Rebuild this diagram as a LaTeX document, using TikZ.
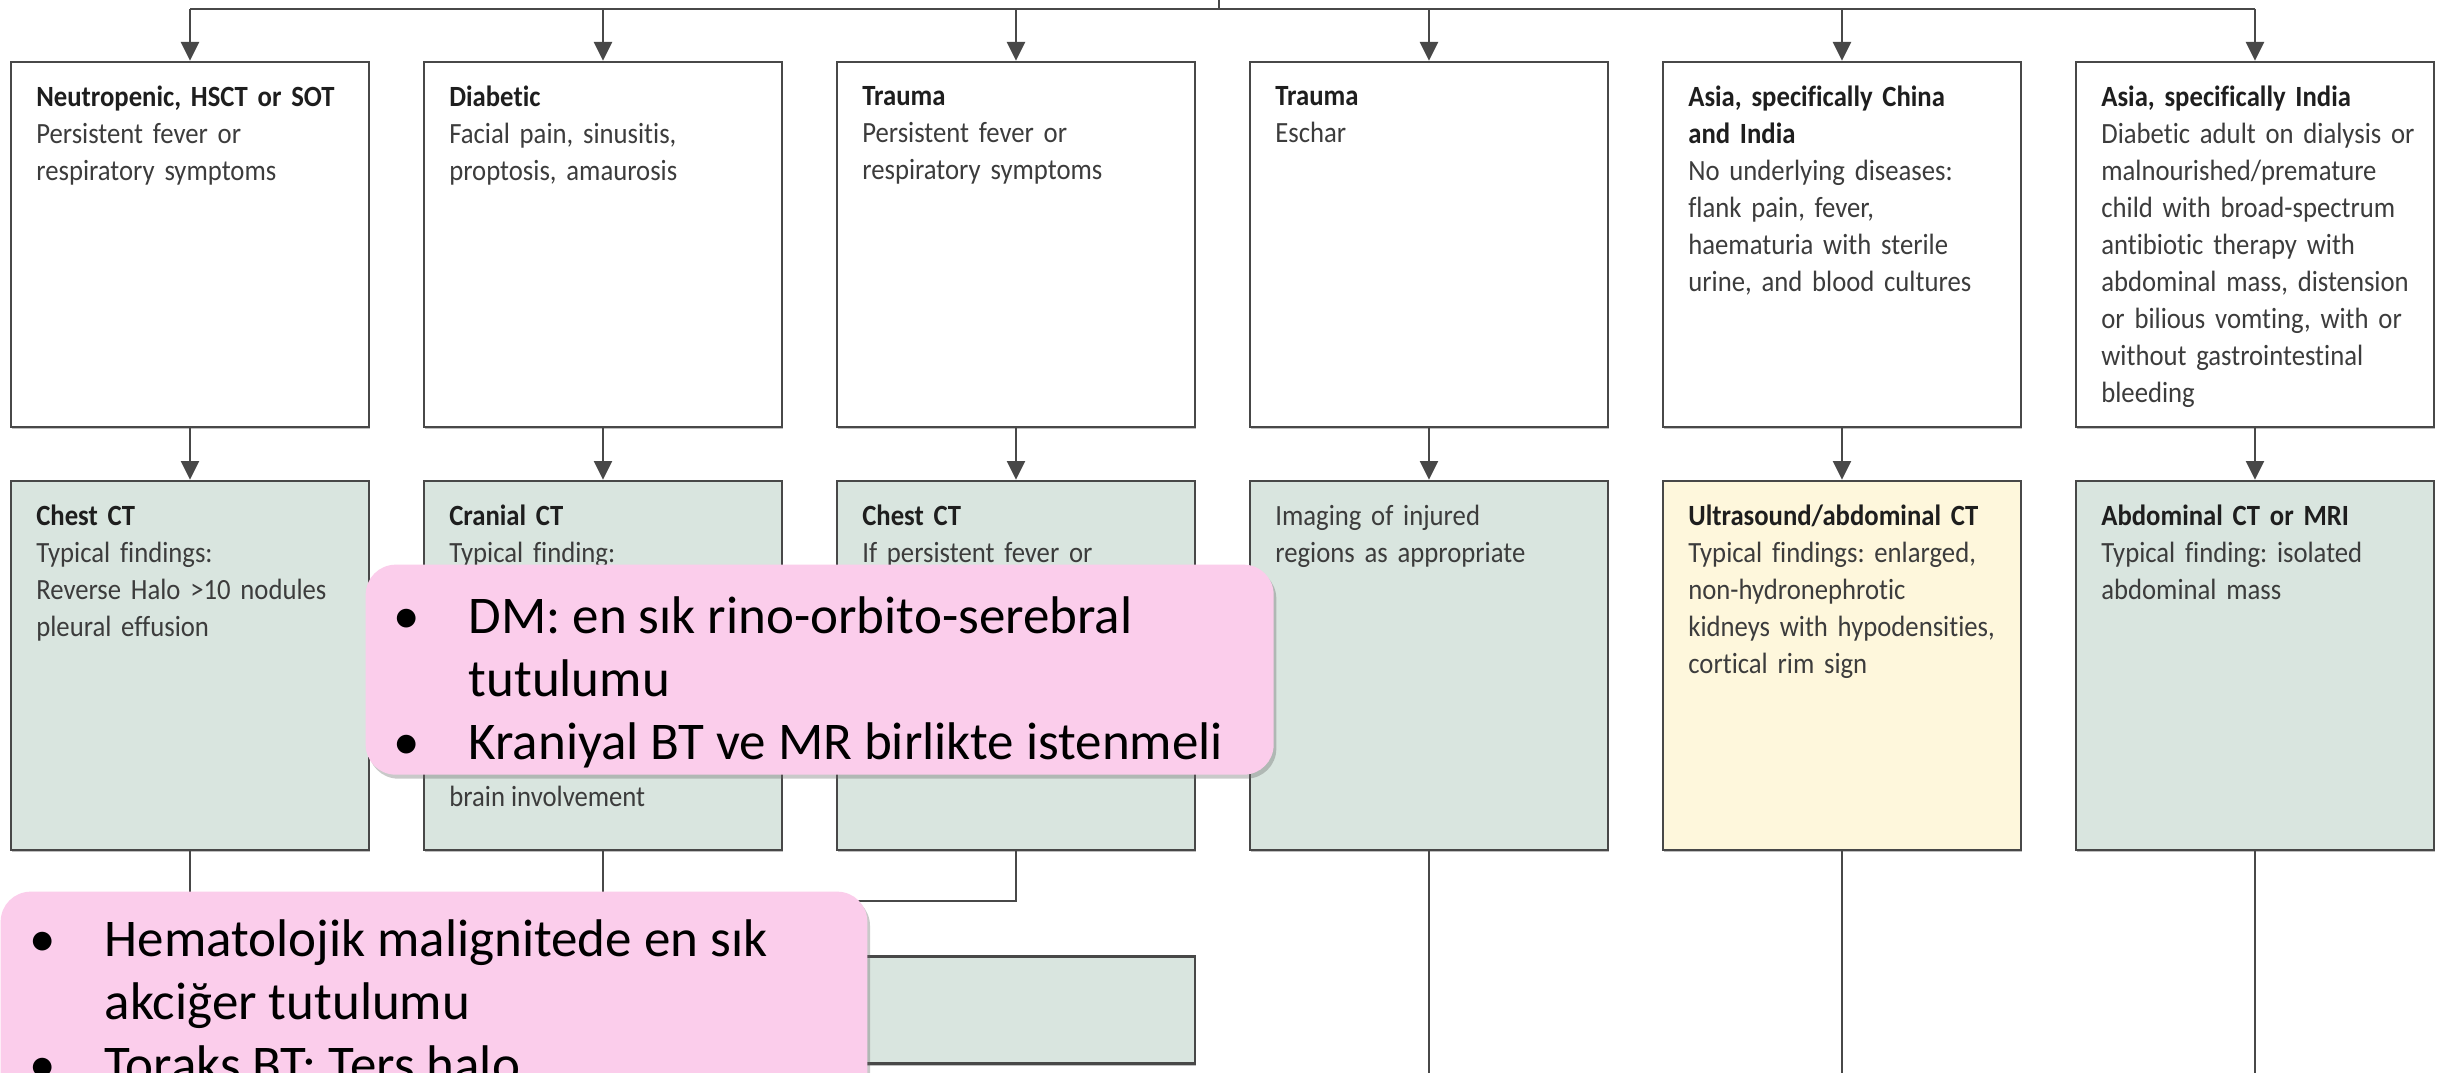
\documentclass[tikz,border=0pt]{standalone}
\usepackage{fontspec}
\setmainfont{Carlito}[Ligatures=NoCommon]
\newfontfamily\boxfont{Carlito}[Ligatures=NoCommon,FakeStretch=0.91]
\usetikzlibrary{arrows.meta,shadows,calc}
\definecolor{boxline}{HTML}{484848}
\definecolor{greenfill}{HTML}{D9E5DF}
\definecolor{yellowfill}{HTML}{FEF7DC}
\definecolor{pinkfill}{HTML}{FBCDEB}
\definecolor{txt}{HTML}{3C3C3C}
\definecolor{head}{HTML}{1E1E1E}
\newcommand{\hd}[1]{{\bfseries\color{head}#1}}
\frenchspacing
\begin{document}
\begin{tikzpicture}[x=0.3pt,y=-0.3pt,
  box/.style={draw=boxline,line width=0.8pt,minimum width=107.4pt,inner sep=0pt,
     drop shadow={shadow xshift=0.3pt,shadow yshift=-0.7pt,fill=black!50,opacity=0.5}},
  topbox/.style={box,fill=white,minimum height=109.5pt},
  imgbox/.style={box,fill=greenfill,minimum height=110.7pt},
  lbl/.style={anchor=north west,inner sep=0pt,text width=104pt,align=left,text=txt,
     font=\boxfont\fontsize{8.8}{11.1}\selectfont},
  lblone/.style={anchor=base west,inner sep=0pt,text=txt,font=\boxfont\fontsize{8.8}{11.1}\selectfont},
  conn/.style={draw=boxline,line width=0.75pt},
  arr/.style={conn,-{Triangle[length=5.6pt,width=5.4pt]}},
  pink/.style={fill=pinkfill,rounded corners=9pt,anchor=north west,inner sep=0pt,
     drop shadow={shadow xshift=0.8pt,shadow yshift=-1.2pt,fill=black!60,opacity=0.35}},
  ptext/.style={anchor=north west,inner sep=0pt,text=black,font=\fontsize{15.9}{19}\selectfont}
]
\useasboundingbox[fill=white] (0,0) rectangle (2443,1073);

% coordinates for spine and free ends
\coordinate (spine) at (0,9);
\coordinate (stem) at (1219,-5);
\coordinate (bottom) at (0,1090);

% row 1
\node[topbox] (t1) at (190,244.5) {};
\node[topbox] (t2) at (603,244.5) {};
\node[topbox] (t3) at (1016,244.5) {};
\node[topbox] (t4) at (1429,244.5) {};
\node[topbox] (t5) at (1842,244.5) {};
\node[topbox] (t6) at (2255,244.5) {};

% row 2
\node[imgbox] (b1) at (190,665.5) {};
\node[imgbox] (b2) at (603,665.5) {};
\node[imgbox] (b3) at (1016,665.5) {};
\node[imgbox] (b4) at (1429,665.5) {};
\node[imgbox,fill=yellowfill] (b5) at (1842,665.5) {};
\node[imgbox] (b6) at (2255,665.5) {};

% row 3 box (partly hidden)
\node[box,fill=greenfill,minimum height=32.2pt] (c3) at (1016,1010) {};

% labels row 1
\node[lbl] (t1l) at ($(t1.north west)+(26,25)$) {\hd{Neutropenic, HSCT or SOT}\\Persistent fever or\\respiratory symptoms};
\node[lbl] (t2l) at ($(t2.north west)+(26,25)$) {\hd{Diabetic}\\Facial pain, sinusitis,\\proptosis, amaurosis};
\node[lbl] (t3l) at ($(t3.north west)+(26,25)$) {\hd{Trauma}\\Persistent fever or\\respiratory symptoms};
\node[lbl] (t4l) at ($(t4.north west)+(26,25)$) {\hd{Trauma}\\Eschar};
\node[lbl] (t5l) at ($(t5.north west)+(26,25)$) {\hd{Asia, specifically China}\\\hd{and India}\\No underlying diseases:\\flank pain, fever,\\haematuria with sterile\\urine, and blood cultures};
\node[lbl] (t6l) at ($(t6.north west)+(26,25)$) {\hd{Asia, specifically India}\\Diabetic adult on dialysis or\\malnourished/premature\\child with broad-spectrum\\antibiotic therapy with\\abdominal mass, distension\\or bilious vomting, with or\\without gastrointestinal\\bleeding};

% labels row 2
\node[lbl] (b1l) at ($(b1.north west)+(26,25)$) {\hd{Chest CT}\\Typical findings:\\Reverse Halo >10 nodules\\pleural effusion};
\node[lbl] (b2l) at ($(b2.north west)+(26,25)$) {\hd{Cranial CT}\\Typical finding:};
\node[lblone] (b2m) at ($(b2.north west)+(26,327)$) {brain involvement};
\node[lbl] (b3l) at ($(b3.north west)+(26,25)$) {\hd{Chest CT}\\If persistent fever or};
\node[lbl] (b4l) at ($(b4.north west)+(26,25)$) {Imaging of injured\\regions as appropriate};
\node[lbl] (b5l) at ($(b5.north west)+(26,25)$) {\hd{Ultrasound/abdominal CT}\\Typical findings: enlarged,\\non-hydronephrotic\\kidneys with hypodensities,\\cortical rim sign};
\node[lbl] (b6l) at ($(b6.north west)+(26,25)$) {\hd{Abdominal CT or MRI}\\Typical finding: isolated\\abdominal mass};

% connectors: spine
\draw[conn] (stem) -- (stem |- spine);
\draw[conn] (t1.north |- spine) -- (t6.north |- spine);
\foreach \i in {1,...,6} {
  \draw[arr] (t\i.north |- spine) -- (t\i.north);
  \draw[arr] (t\i.south) -- (b\i.north);
}
% connectors below row 2
\coordinate (j1) at (190,940);
\coordinate (j2) at (603,901);
\draw[conn] (b1.south) -- (j1);
\draw[conn] (b2.south) -- (j2);
\draw[conn] (b3.south) |- (j2);
\draw[conn] (b4.south) -- (b4.south |- bottom);
\draw[conn] (b5.south) -- (b5.south |- bottom);
\draw[conn] (b6.south) -- (b6.south |- bottom);

% pink callouts
\node[pink,minimum width=272.4pt,minimum height=63pt] (p1) at (365,564) {};
\node[ptext] (p1t) at ($(p1.north west)+(28,24)$) {\begin{tabular}{@{}p{22.5pt}@{}l@{}}\textbullet & DM: en sık rino-orbito-serebral\\ & tutulumu\\ \textbullet & Kraniyal BT ve MR birlikte istenmeli\end{tabular}};
\node[pink,minimum width=260pt,minimum height=75pt] (p2) at (0,891) {};
\node[ptext] (p2t) at ($(p2.north west)+(29,20)$) {\begin{tabular}{@{}p{22.5pt}@{}l@{}}\textbullet & Hematolojik malignitede en sık\\ & akciğer tutulumu\\ \textbullet & Toraks BT: Ters halo\end{tabular}};
\end{tikzpicture}
\end{document}
